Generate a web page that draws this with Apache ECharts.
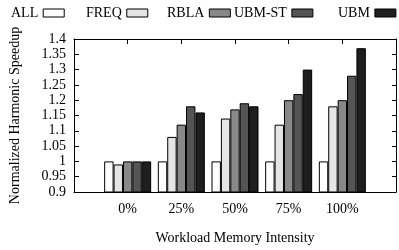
<!DOCTYPE html>
<html>
<head>
<meta charset="utf-8">
<script src="https://cdn.jsdelivr.net/npm/echarts@6/dist/echarts.min.js"></script>
<style>
html, body { margin: 0; padding: 0; background: #fff; }
#chart { width: 399px; height: 250px; }
</style>
</head>
<body>
<div id="chart"></div>
<script>
// categories (padded with empty slots at both ends, like the gnuplot xrange)
var categories = ['', '0%', '25%', '50%', '75%', '100%', ''];
var yTicks = [0.9, 0.95, 1, 1.05, 1.1, 1.15, 1.2, 1.25, 1.3, 1.35, 1.4];

var allVals    = ['-', 1.00, 1.00, 1.00, 1.00, 1.00, '-'];
var freqVals   = ['-', 0.99, 1.08, 1.14, 1.12, 1.18, '-'];
var rblaVals   = ['-', 1.00, 1.12, 1.17, 1.20, 1.20, '-'];
var ubmStVals  = ['-', 1.00, 1.18, 1.19, 1.22, 1.28, '-'];
var ubmVals    = ['-', 1.00, 1.16, 1.18, 1.30, 1.37, '-'];

var seriesNames = ['ALL', 'FREQ', 'RBLA', 'UBM-ST', 'UBM'];
var seriesData = [allVals, freqVals, rblaVals, ubmStVals, ubmVals];
var seriesColors = ['#ffffff', '#e5e5e5', '#888888', '#555555', '#1e1e1e'];
var legendLeft = [11, 86, 167, 234, 338];

var font = '"Liberation Serif", "DejaVu Serif", serif';

var byId = function(id) {
	return document.getElementById(id);
};

var legends = seriesNames.map(function(name, i) {
	return {
		data: [{ name: name, icon: 'rect' }],
		left: legendLeft[i],
		top: 6,
		padding: 0,
		align: 'right',
		itemWidth: 21,
		itemHeight: 8,
		selectedMode: false,
		itemStyle: { borderColor: '#000', borderWidth: 1 },
		textStyle: { fontFamily: font, fontSize: 14, color: '#000' }
	};
});

var series = seriesNames.map(function(name, i) {
	return {
		name: name,
		type: 'bar',
		data: seriesData[i],
		barWidth: 9.4,
		barGap: '0%',
		itemStyle: {
			color: seriesColors[i],
			borderColor: '#000',
			borderWidth: 1
		},
		emphasis: { disabled: true }
	};
});

var option = {
	animation: false,
	legend: legends,
	grid: {
		left: 73,
		top: 39,
		width: 329,
		height: 157
	},
	xAxis: [{
		type: 'category',
		data: categories,
		boundaryGap: false,
		position: 'bottom',
		name: 'Workload Memory Intensity',
		nameLocation: 'middle',
		nameGap: 39,
		nameTextStyle: { fontFamily: font, fontSize: 14, color: '#000' },
		axisLine: { lineStyle: { color: '#000', width: 1 } },
		axisTick: { show: false },
		axisLabel: { fontFamily: font, fontSize: 14, color: '#000', margin: 10 },
		splitLine: { show: false }
	}, {
		type: 'category',
		data: categories,
		boundaryGap: false,
		position: 'top',
		axisLine: { lineStyle: { color: '#000', width: 1 } },
		axisTick: { show: true, inside: true, length: 5, lineStyle: { color: '#000' } },
		axisLabel: { show: false },
		splitLine: { show: false }
	}],
	yAxis: [{
		type: 'value',
		min: 0.9,
		max: 1.4,
		interval: 0.05,
		name: 'Normalized Harmonic Speedup',
		nameLocation: 'middle',
		nameGap: 52,
		nameTextStyle: { fontFamily: font, fontSize: 14, color: '#000' },
		axisLine: { show: true, lineStyle: { color: '#000', width: 1 } },
		axisTick: { show: true, inside: true, length: 5, lineStyle: { color: '#000' } },
		axisLabel: {
			fontFamily: font, fontSize: 14, color: '#000', margin: 8,
			formatter: function(v) { return String(Math.round(v * 100) / 100); }
		},
		splitLine: { show: false }
	}, {
		type: 'value',
		min: 0.9,
		max: 1.4,
		interval: 0.05,
		position: 'right',
		axisLine: { show: true, lineStyle: { color: '#000', width: 1 } },
		axisTick: { show: true, inside: true, length: 4, lineStyle: { color: '#000' } },
		axisLabel: { show: false },
		splitLine: { show: false }
	}],
	series: series
};

var chart = echarts.init(byId('chart'));
chart.setOption(option);
</script>
</body>
</html>
